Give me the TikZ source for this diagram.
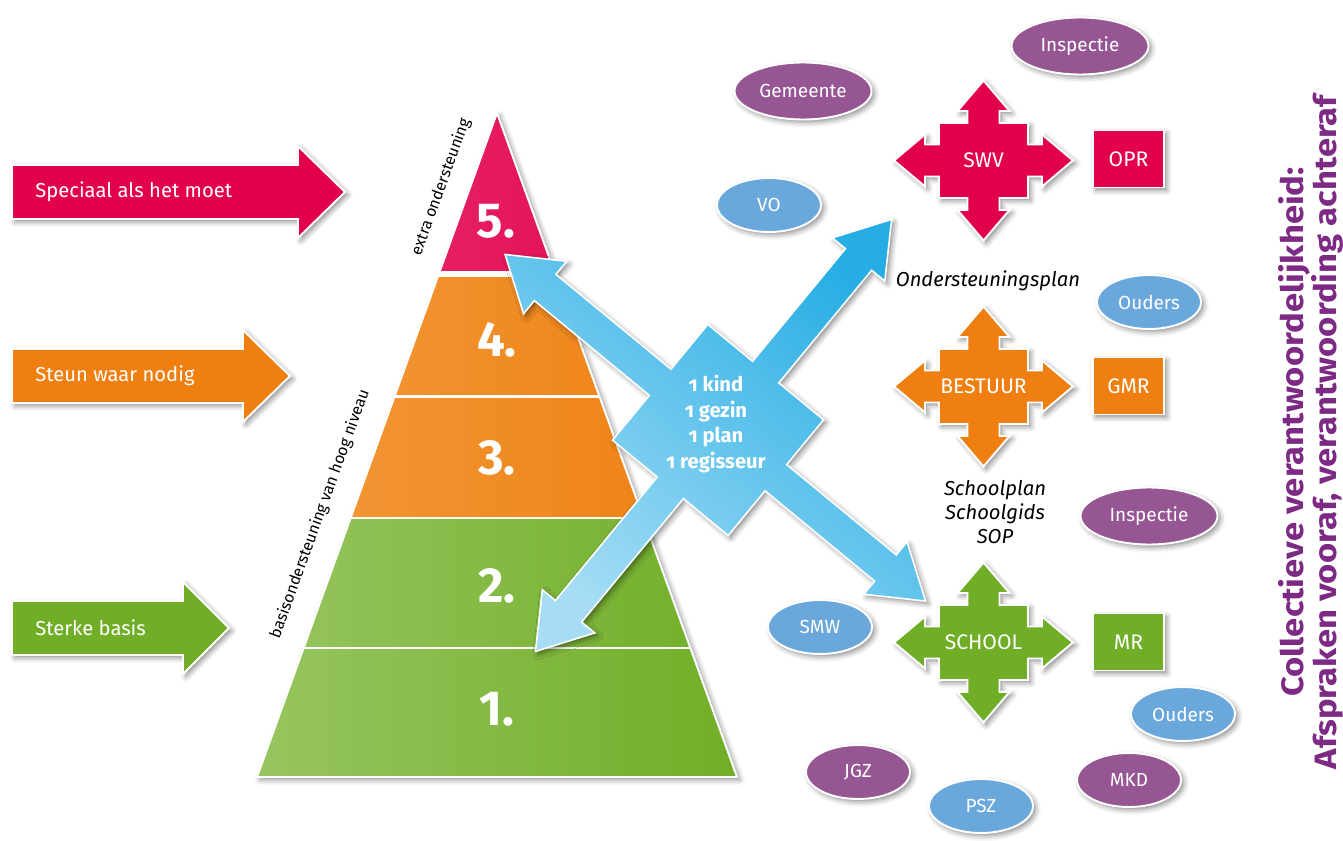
\documentclass[tikz,border=0pt]{standalone}
\usepackage{fontspec}
\setmainfont{Fira Sans}
\newfontfamily\titlefont[FakeStretch=1.12]{Fira Sans}
\usetikzlibrary{shadows.blur,calc,shapes.geometric}
\definecolor{cpink}{HTML}{E2004B}
\definecolor{cpinkL}{HTML}{E8336E}
\definecolor{corange}{HTML}{EE7F10}
\definecolor{corangeL}{HTML}{F39A3C}
\definecolor{cgreen}{HTML}{71AE27}
\definecolor{cgreenL}{HTML}{97C560}
\definecolor{cpurple}{HTML}{965693}
\definecolor{clblue}{HTML}{6AA8DB}
\definecolor{bdark}{HTML}{25ADE4}
\definecolor{bmid}{HTML}{40B7E8}
\definecolor{blight}{HTML}{A6DDF5}
\definecolor{ctitle}{HTML}{7D2A85}
\newdimen\pu \pu=0.02cm
\tikzset{
  shadowed/.style={blur shadow={shadow xshift=1.6pt, shadow yshift=-1.6pt, shadow blur radius=3pt, shadow opacity=45}},
  outlined/.style={draw=white, line width=1.1pt, shadowed},
  bubble/.style={ellipse, outlined, text=white, inner sep=0pt, font=\fontsize{10.8}{13}\selectfont},
  bigbubble/.style={bubble, minimum width=137\pu, minimum height=57\pu},
  smallbubble/.style={bubble, minimum width=104\pu, minimum height=54\pu},
  tagbox/.style={rectangle, outlined, text=white, inner sep=0pt, minimum width=71\pu, minimum height=57\pu, font=\fontsize{12}{14}\selectfont},
  crosslabel/.style={text=white, inner sep=0pt, font=\fontsize{12}{14}\selectfont},
  armlabel/.style={text=white, inner sep=0pt, anchor=west, font=\fontsize{11.5}{14}\selectfont},
  tiernum/.style={text=white, inner sep=0pt, font=\fontsize{28}{30}\selectfont\bfseries},
  sidelabel/.style={text=black, inner sep=0pt, rotate=70, font=\fontsize{9}{11}\selectfont},
  note/.style={text=black, inner sep=0pt, align=center, font=\fontsize{11.5}{13.9}\selectfont\itshape},
  coretext/.style={text=white, inner sep=0pt, align=center, font=\fontsize{11.5}{14.7}\selectfont\bfseries\addfontfeatures{Numbers=OldStyle}},
  titletext/.style={text=ctitle, inner sep=0pt, align=center, rotate=90, font=\titlefont\fontsize{17.6}{18.4}\selectfont\bfseries}
}
\newcommand\fourway[4]{%
  \begin{scope}[shift={#2}]
    \fill[#3, outlined] (0,-80) -- (26,-49.5) -- (16,-49.5) -- (16,-37.5) -- (44.5,-37.5) -- (44.5,-16) -- (58.5,-16) -- (58.5,-26) -- (89.5,0) -- (58.5,26) -- (58.5,16) -- (44.5,16) -- (44.5,37.5) -- (16,37.5) -- (16,49.5) -- (26,49.5) -- (0,80) -- (-26,49.5) -- (-16,49.5) -- (-16,37.5) -- (-44.5,37.5) -- (-44.5,16) -- (-58.5,16) -- (-58.5,26) -- (-89.5,0) -- (-58.5,-26) -- (-58.5,-16) -- (-44.5,-16) -- (-44.5,-37.5) -- (-16,-37.5) -- (-16,-49.5) -- (-26,-49.5) -- cycle;
  \end{scope}
  \node[crosslabel] (#1) at #2 {#4};
}
\newcommand\sidearrow[6]{%
  \fill[#5, outlined] (12,#2-27) -- (#3,#2-27) -- (#3,#2-46) -- (#4,#2) -- (#3,#2+46) -- (#3,#2+27) -- (12,#2+27) -- cycle;
  \node[armlabel] (#1) at (35,#2) {#6};
}
\begin{document}
\begin{tikzpicture}[x=0.02cm, y=-0.02cm]
\useasboundingbox (0,0) rectangle (1343,841);
% left arrows
\sidearrow{spec}{192}{298}{345}{cpink}{Speciaal als het moet}
\sidearrow{steun}{376}{243}{290}{corange}{Steun waar nodig}
\sidearrow{sterk}{628}{183}{229}{cgreen}{Sterke basis}
% pyramid
\coordinate (apex) at (497,113);
\coordinate (pl) at (257,777);
\coordinate (pr) at (737,777);
\fill[white, shadowed] (apex) -- (pr) -- (pl) -- cycle;
\begin{scope}
  \clip (apex) -- (pr) -- (pl) -- cycle;
  \shade[left color=cpinkL, middle color=cpink, right color=cpink] (257,113) rectangle (737,271);
  \shade[left color=corangeL, middle color=corange, right color=corange] (257,278) rectangle (737,395);
  \shade[left color=corangeL, middle color=corange, right color=corange] (257,398) rectangle (737,516);
  \shade[left color=cgreenL, middle color=cgreen, right color=cgreen] (257,519) rectangle (737,646);
  \shade[left color=cgreenL, middle color=cgreen, right color=cgreen] (257,649) rectangle (737,777);
\end{scope}
\draw[white, line width=1.1pt, line join=round] (apex) -- (pr) -- (pl) -- cycle;
\node[tiernum] (n5) at (496,221) {5.};
\node[tiernum] (n4) at (497,340) {4.};
\node[tiernum] (n3) at (497,458) {3.};
\node[tiernum] (n2) at (497,586) {2.};
\node[tiernum] (n1) at (497,709) {1.};
\node[sidelabel] (lab5) at (441,187) {extra ondersteuning};
\node[sidelabel] (labb) at (320,514) {basisondersteuning van hoog niveau};
% blue cross
\begin{scope}[shift={(718,430)}, rotate=-39.5]
  \foreach \a/\b [count=\i] in {75/-75,75/-17,217/-17,217/-34,269/0,217/34,217/17,75/17,75/75,17/75,17/235,34/235,0/287,-34/235,-17/235,-17/75,-75/75,-75/17,-224/17,-224/34,-276/0,-224/-34,-224/-17,-75/-17,-75/-75,-17/-75,-17/-221,-34/-221,0/-273,34/-221,17/-221,17/-75}
    \coordinate (bx\i) at (\a,\b);
\end{scope}
\shade[top color=bdark, middle color=bmid, bottom color=blight, shading angle=-40, draw=white, line width=0.9pt, line join=miter, shadowed]
  (bx1) \foreach \i in {2,...,32} {-- (bx\i)} -- cycle;
\node[coretext] (core) at (716,424) {1 kind\\1 gezin\\1 plan\\1 regisseur};
% right side
\fourway{swv}{(983.5,160.5)}{cpink}{SWV}
\fourway{bestuur}{(983.5,386.5)}{corange}{BESTUUR}
\fourway{school}{(983.5,642.5)}{cgreen}{SCHOOL}
\node[tagbox, fill=cpink] (opr) at (1128.5,159) {OPR};
\node[tagbox, fill=corange] (gmr) at (1128.5,386) {GMR};
\node[tagbox, fill=cgreen] (mr) at (1128.5,642) {MR};
\node[bigbubble, fill=cpurple] (insp1) at (1080,46) {Inspectie};
\node[bigbubble, fill=cpurple] (gem) at (803,91) {Gemeente};
\node[smallbubble, fill=clblue] (vo) at (769,205) {VO};
\node[smallbubble, fill=clblue] (ouders1) at (1149,302) {Ouders};
\node[bigbubble, fill=cpurple] (insp2) at (1149,516) {Inspectie};
\node[smallbubble, fill=clblue] (smw) at (820,627) {SMW};
\node[smallbubble, fill=clblue] (ouders2) at (1183,714) {Ouders};
\node[smallbubble, fill=cpurple] (jgz) at (858,772) {JGZ};
\node[smallbubble, fill=cpurple] (mkd) at (1129,780) {MKD};
\node[smallbubble, fill=clblue] (psz) at (981,806) {PSZ};
\node[note] (osp) at (988,281) {Ondersteuningsplan};
\node[note] (spl) at (995,512) {Schoolplan\\Schoolgids\\SOP};
\node[titletext] (title) at (1311,432) {Collectieve verantwoordelijkheid:\\Afspraken vooraf, verantwoording achteraf};
\end{tikzpicture}
\end{document}
